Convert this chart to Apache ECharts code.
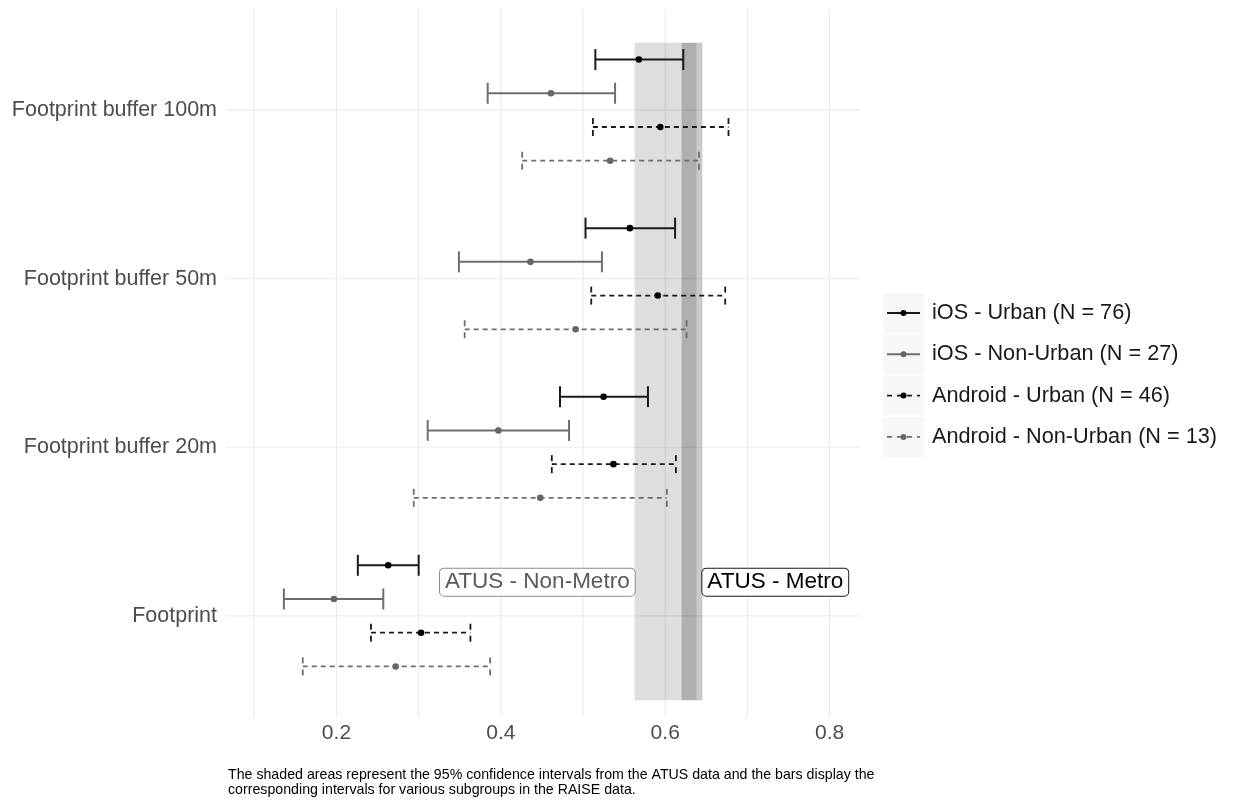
<!DOCTYPE html>
<html>
<head>
<meta charset="utf-8">
<script src="https://cdn.jsdelivr.net/npm/echarts@6/dist/echarts.min.js"></script>
<style>
html,body{margin:0;padding:0;background:#fff;}
#chart{width:1233px;height:801px;}
</style>
</head>
<body>
<div id="chart"></div>
<script>
// ---- data ----
const categories = ['Footprint', 'Footprint buffer 20m', 'Footprint buffer 50m', 'Footprint buffer 100m'];
const groupNames = ['iOS - Urban (N = 76)', 'iOS - Non-Urban (N = 27)', 'Android - Urban (N = 46)', 'Android - Non-Urban (N = 13)'];

const iosUrbanLow  = [0.226, 0.472, 0.503, 0.515];
const iosUrbanEst  = [0.263, 0.525, 0.557, 0.568];
const iosUrbanHigh = [0.300, 0.579, 0.612, 0.622];

const iosNonUrbanLow  = [0.136, 0.311, 0.349, 0.384];
const iosNonUrbanEst  = [0.197, 0.397, 0.436, 0.461];
const iosNonUrbanHigh = [0.257, 0.483, 0.523, 0.539];

const androidUrbanLow  = [0.242, 0.462, 0.510, 0.512];
const androidUrbanEst  = [0.303, 0.537, 0.591, 0.594];
const androidUrbanHigh = [0.363, 0.613, 0.673, 0.677];

const androidNonUrbanLow  = [0.159, 0.294, 0.356, 0.426];
const androidNonUrbanEst  = [0.272, 0.448, 0.491, 0.533];
const androidNonUrbanHigh = [0.387, 0.602, 0.626, 0.641];

const atusLabels = ['ATUS - Non-Metro', 'ATUS - Metro'];
const atusLow  = [0.5628, 0.620];
const atusHigh = [0.638, 0.6452];

const xTickValues = [0.2, 0.4, 0.6, 0.8];
const xGridValues = [0.1, 0.2, 0.3, 0.4, 0.5, 0.6, 0.7, 0.8];
const caption = 'The shaded areas represent the 95% confidence intervals from the ATUS data and the bars display the\ncorresponding intervals for various subgroups in the RAISE data.';

// ---- build ----
const FONT = '"Liberation Sans", Arial, Helvetica, sans-serif';
const groups = [
  {low: iosUrbanLow, est: iosUrbanEst, high: iosUrbanHigh, offset: 0.3, color: '#1a1a1a', pt: '#000000', dashed: false},
  {low: iosNonUrbanLow, est: iosNonUrbanEst, high: iosNonUrbanHigh, offset: 0.1, color: '#6e6e6e', pt: '#666666', dashed: false},
  {low: androidUrbanLow, est: androidUrbanEst, high: androidUrbanHigh, offset: -0.1, color: '#1a1a1a', pt: '#000000', dashed: true},
  {low: androidNonUrbanLow, est: androidNonUrbanEst, high: androidNonUrbanHigh, offset: -0.3, color: '#6e6e6e', pt: '#666666', dashed: true}
];

function errRenderer(g) {
  return function (params, api) {
    const yv = api.value(0) + g.offset;
    const pL = api.coord([api.value(1), yv]);
    const pM = api.coord([api.value(2), yv]);
    const pH = api.coord([api.value(3), yv]);
    const cap = g.dashed ? 9 : 10.5;
    const lw = g.dashed ? 1.8 : 2;
    const hs = {stroke: g.color, lineWidth: lw, fill: null, lineDash: g.dashed ? [5, 4] : null};
    const cs = {stroke: g.color, lineWidth: lw, fill: null, lineDash: g.dashed ? [6, 6] : null};
    return {type: 'group', children: [
      {type: 'line', shape: {x1: pL[0], y1: pL[1], x2: pH[0], y2: pH[1]}, style: hs},
      {type: 'line', shape: {x1: pL[0], y1: pL[1] - cap, x2: pL[0], y2: pL[1] + cap}, style: cs},
      {type: 'line', shape: {x1: pH[0], y1: pH[1] - cap, x2: pH[0], y2: pH[1] + cap}, style: cs},
      {type: 'circle', shape: {cx: pM[0], cy: pM[1], r: 3.3}, style: {fill: g.pt}}
    ]};
  };
}

const series = [];
// vertical grid lines
series.push({
  type: 'custom', z: 0, silent: true,
  data: xGridValues.map(v => [v]),
  encode: {x: 0},
  renderItem: function (params, api) {
    const cs = params.coordSys;
    const p = api.coord([api.value(0), 1]);
    return {type: 'line', shape: {x1: p[0], y1: cs.y, x2: p[0], y2: cs.y + cs.height},
      style: {stroke: '#ebebeb', lineWidth: 1.1}};
  }
});
// horizontal grid lines
series.push({
  type: 'custom', z: 0, silent: true,
  data: categories.map((c, i) => [i + 1]),
  encode: {y: 0},
  renderItem: function (params, api) {
    const cs = params.coordSys;
    const p = api.coord([0.2, api.value(0)]);
    return {type: 'line', shape: {x1: cs.x, y1: p[1], x2: cs.x + cs.width, y2: p[1]},
      style: {stroke: '#ebebeb', lineWidth: 1.1}};
  }
});
// shaded ATUS areas
const shadeAlpha = [0.13, 0.21];
series.push({
  type: 'custom', z: 1, silent: true,
  data: atusLow.map((v, i) => [v, atusHigh[i], i]),
  encode: {x: [0, 1]},
  renderItem: function (params, api) {
    const p1 = api.coord([api.value(0), 4.4]);
    const p2 = api.coord([api.value(1), 0.5]);
    return {type: 'rect', shape: {x: p1[0], y: p1[1], width: p2[0] - p1[0], height: p2[1] - p1[1]},
      style: {fill: 'rgba(0,0,0,' + shadeAlpha[api.value(2)] + ')'}};
  }
});
// error bars
groups.forEach((g, gi) => {
  series.push({
    type: 'custom', z: 2, name: groupNames[gi],
    data: categories.map((c, i) => [i + 1, g.low[i], g.est[i], g.high[i]]),
    encode: {y: 0, x: [1, 2, 3]},
    renderItem: errRenderer(g)
  });
});
// ATUS labels
const labelStyles = [
  {fill: '#5a5a5a', border: '#8c8c8c', align: 'right'},
  {fill: '#000000', border: '#1a1a1a', align: 'left'}
];
series.push({
  type: 'custom', z: 3, silent: true,
  data: atusLow.map((v, i) => [v, atusHigh[i], i]),
  encode: {x: [0, 1]},
  renderItem: function (params, api) {
    const i = api.value(2);
    const st = labelStyles[i];
    const xv = st.align === 'right' ? api.value(0) : api.value(1);
    const p = api.coord([xv, 1.2]);
    return {type: 'text', x: p[0], y: p[1], style: {
      text: atusLabels[i], fill: st.fill, fontSize: 22.5, fontFamily: FONT,
      align: st.align, verticalAlign: 'middle',
      backgroundColor: '#ffffff', borderColor: st.border, borderWidth: 1, borderRadius: 4,
      padding: [3, 5, 1, 5]
    }};
  }
});

// legend drawn as graphics
const legendEls = [];
groups.forEach((g, i) => {
  const cy = 313 + i * 41.3;
  legendEls.push({type: 'rect', left: 883, top: cy - 20, shape: {width: 41, height: 40}, style: {fill: '#f7f7f7'}, z: 10});
  legendEls.push({type: 'line', shape: {x1: 887, y1: cy, x2: 920, y2: cy},
    style: {stroke: g.color, lineWidth: g.dashed ? 1.8 : 2, lineDash: g.dashed ? [5, 5] : null}, z: 11});
  legendEls.push({type: 'circle', shape: {cx: 903.5, cy: cy, r: 3}, style: {fill: g.pt}, z: 12});
  legendEls.push({type: 'text', x: 932, y: cy, style: {text: groupNames[i], fill: '#1a1a1a',
    fontSize: 21.7, fontFamily: FONT, verticalAlign: 'middle'}, z: 12});
});
legendEls.push({type: 'text', left: 228, top: 767, style: {text: caption, fill: '#000',
  fontSize: 14.2, lineHeight: 15.5, fontFamily: FONT}});

const chart = echarts.init(document.getElementById('chart'), null, {renderer: 'canvas'});
chart.setOption({
  animation: false,
  backgroundColor: '#ffffff',
  grid: {left: 226, right: 373, top: 9, bottom: 84, containLabel: false},
  xAxis: {
    type: 'value', min: 0.0656, max: 0.837,
    axisLine: {show: false}, axisTick: {show: false}, splitLine: {show: false},
    axisLabel: {customValues: xTickValues, formatter: v => v.toFixed(1), color: '#4d4d4d',
      fontSize: 21, fontFamily: FONT, margin: 6}
  },
  yAxis: {
    type: 'value', min: 0.4, max: 4.6,
    axisLine: {show: false}, axisTick: {show: false}, splitLine: {show: false},
    axisLabel: {customValues: [1, 2, 3, 4], formatter: v => categories[Math.round(v) - 1] || '',
      color: '#4d4d4d', fontSize: 21.5, fontFamily: FONT, margin: 9}
  },
  series: series,
  graphic: legendEls
});
</script>
</body>
</html>
